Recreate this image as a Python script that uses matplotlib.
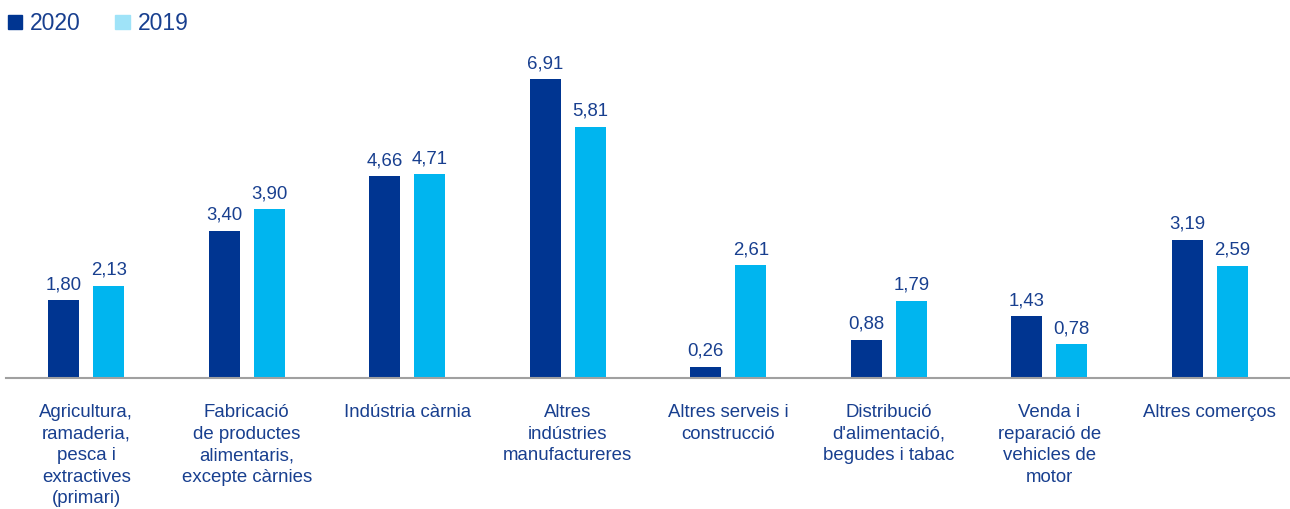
import numpy as np
import matplotlib.pyplot as plt
from matplotlib.patches import Patch

plt.rcParams['font.family'] = ['Liberation Sans', 'DejaVu Sans']

# Data
categories = [
    'Agricultura,\nramaderia,\npesca i\nextractives\n(primari)',
    'Fabricació\nde productes\nalimentaris,\nexcepte càrnies',
    'Indústria càrnia',
    'Altres\nindústries\nmanufactureres',
    'Altres serveis i\nconstrucció',
    'Distribució\nd\'alimentació,\nbegudes i tabac',
    'Venda i\nreparació de\nvehicles de\nmotor',
    'Altres comerços',
]
values_2020 = [1.80, 3.40, 4.66, 6.91, 0.26, 0.88, 1.43, 3.19]
values_2019 = [2.13, 3.90, 4.71, 5.81, 2.61, 1.79, 0.78, 2.59]
series_names = ['2020', '2019']

dark_blue = '#003591'
light_blue = '#00B5EF'
legend_light = '#9FE3F8'
text_color = '#183F8F'

fig = plt.figure(figsize=(12.9, 5.09), dpi=100)
ax = fig.add_axes([0.0047, 0.2574, 0.9953, 0.664])

x = np.arange(len(categories))
w = 0.193
off = 0.14

b1 = ax.bar(x - off, values_2020, w, color=dark_blue)
b2 = ax.bar(x + off, values_2019, w, color=light_blue)

# value labels
for bars, vals in ((b1, values_2020), (b2, values_2019)):
    for rect, v in zip(bars, vals):
        ax.annotate(f'{v:.2f}'.replace('.', ','),
                    (rect.get_x() + rect.get_width() / 2, rect.get_height()),
                    xytext=(0, 5), textcoords='offset points',
                    ha='center', va='bottom', fontsize=13.4, color=text_color)

ax.set_xlim(-0.5, 7.5)
ax.set_ylim(0, 7.81)
ax.set_yticks([])
ax.set_xticks(x)
ax.set_xticklabels(categories, fontsize=13.4, color=text_color, linespacing=1.34, va='top')
ax.tick_params(axis='x', length=0, pad=19)

for s in ['top', 'right', 'left']:
    ax.spines[s].set_visible(False)
ax.spines['bottom'].set_color('#A0A0A0')
ax.spines['bottom'].set_linewidth(1.5)

# legend
handles = [Patch(color=dark_blue), Patch(color=legend_light)]
leg = fig.legend(handles, series_names, loc='upper left', bbox_to_anchor=(0.0, 0.992),
                 ncol=2, frameon=False, fontsize=16.5, handlelength=0.62, handleheight=0.62,
                 handletextpad=0.35, columnspacing=1.5, borderaxespad=0.0,
                 borderpad=0.35)
for t in leg.get_texts():
    t.set_color(text_color)

fig.savefig('out.png', dpi=100)
